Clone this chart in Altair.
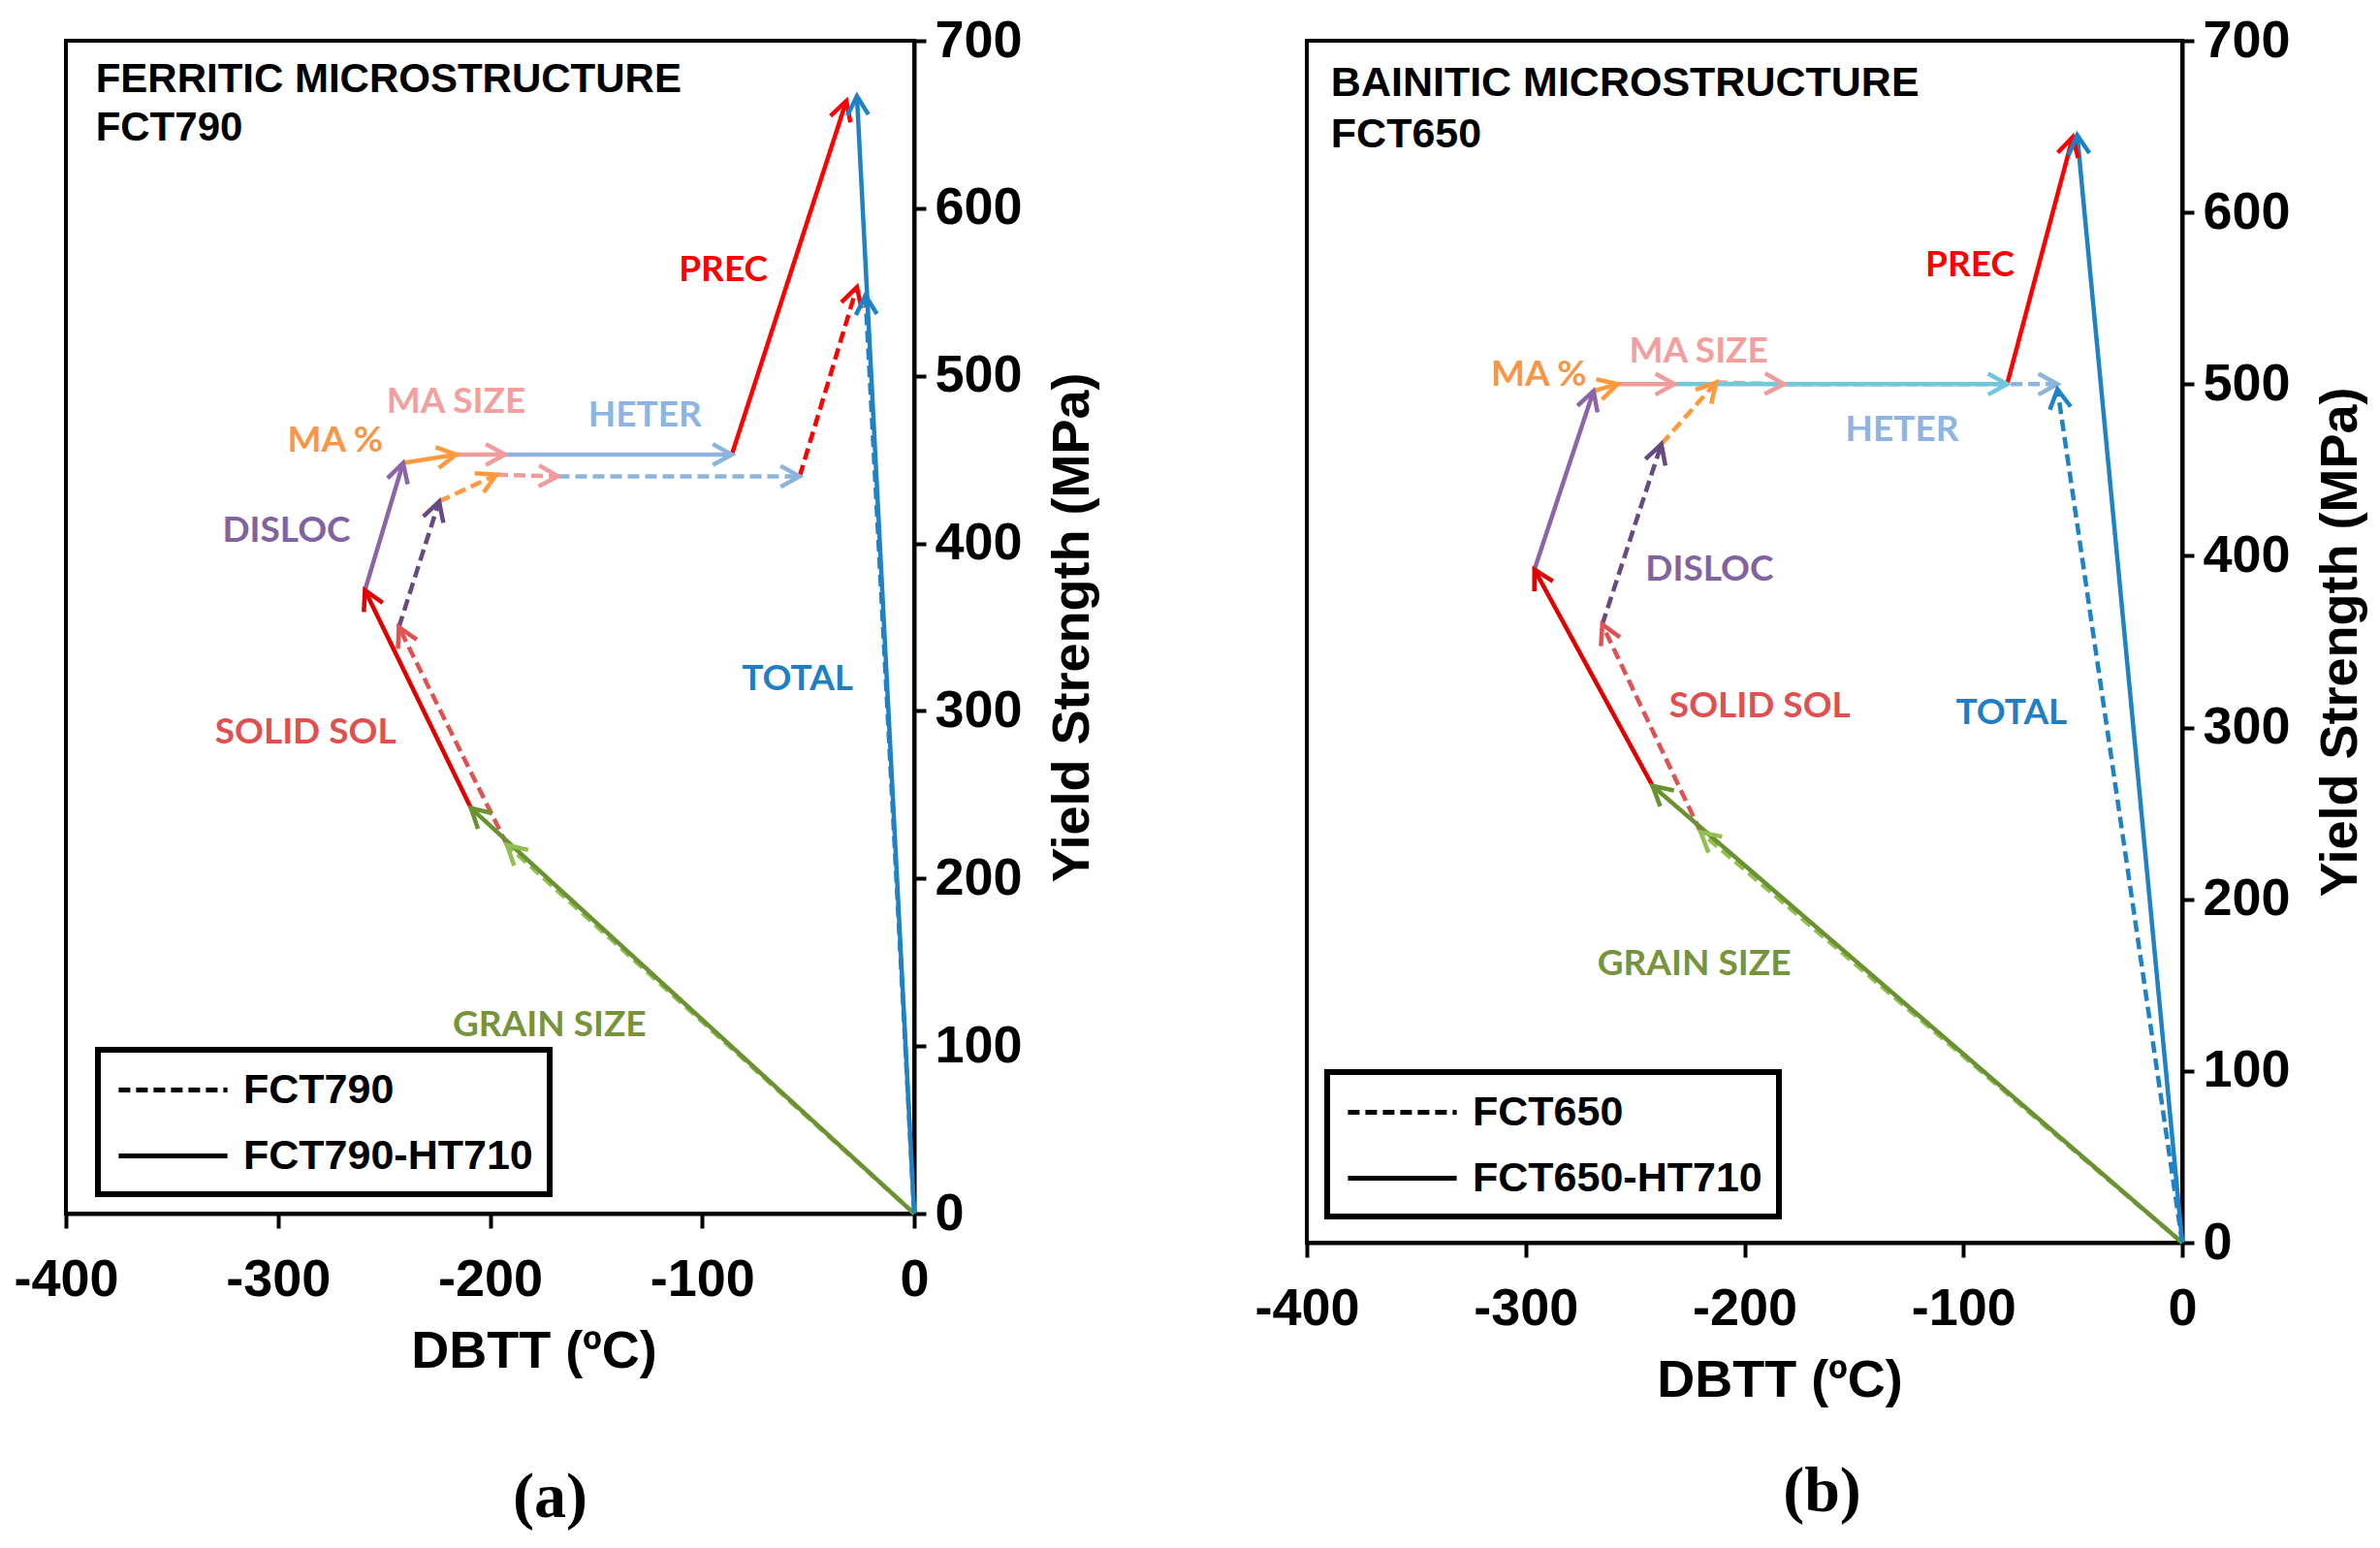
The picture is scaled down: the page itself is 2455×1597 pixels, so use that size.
import math

import altair as alt
import pandas as pd

STEPS = ["GRAIN SIZE", "SOLID SOL", "DISLOC", "MA %", "MA SIZE", "HETER", "PREC"]

# (a) ferritic: end point of each cumulative contribution, starting from (0, 0)
fct790_dbtt = [-192, -243, -224, -197, -168, -54, -27]
fct790_ys = [220, 350, 425, 441, 440, 440, 553]
fct790_total = [-23, 548]
fct790_ht_dbtt = [-209, -259, -241, -216, -193, -86, -32]
fct790_ht_ys = [242, 372, 448, 453, 453, 453, 664]
fct790_ht_total = [-27, 667]

# (b) bainitic: no precipitation step for FCT650
fct650_dbtt = [-220, -265, -238, -213, -182, -57]
fct650_ys = [239, 360, 465, 501, 500, 500]
fct650_total = [-57, 497]
fct650_ht_dbtt = [-242, -296, -269, -258, -232, -80, -50]
fct650_ht_ys = [266, 392, 496, 500, 500, 500, 644]
fct650_ht_total = [-48, 645]

label_text = ["PREC", "MA SIZE", "HETER", "MA %", "DISLOC", "SOLID SOL", "TOTAL", "GRAIN SIZE"]
a_label_x = [-90, -216, -127, -273, -296, -287, -55, -172]
a_label_y = [563, 484, 476, 461, 407, 287, 319, 112]
b_label_x = [-97, -221, -128, -294, -216, -193, -78, -223]
b_label_y = [569, 519, 473, 505, 392, 312, 308, 162]

x_ticks = [-400, -300, -200, -100, 0]
y_ticks = [0, 100, 200, 300, 400, 500, 600, 700]

# colours
label_colours = {
    "GRAIN SIZE": "#77933C", "SOLID SOL": "#E05050", "DISLOC": "#8064A2",
    "MA %": "#F79646", "MA SIZE": "#F2A09E", "HETER": "#8DB4E2",
    "PREC": "#FF0000", "TOTAL": "#1F7FC4",
}
line_colours = {
    "GRAIN SIZE dash": "#92C050", "GRAIN SIZE solid": "#6A9232",
    "SOLID SOL dash": "#E05252", "SOLID SOL solid": "#E00000",
    "DISLOC dash": "#664A80", "DISLOC solid": "#8C64A8",
    "MA % dash": "#FF9A3C", "MA % solid": "#FF9A3C",
    "MA SIZE dash": "#F09C9A", "MA SIZE solid": "#F09C9A",
    "HETER dash": "#8DB4DC", "HETER solid": "#8DB4DC",
    "PREC dash": "#FF0000", "PREC solid": "#FF0000",
    "TOTAL dash": "#1F82C4", "TOTAL solid": "#1F82C4",
}

CHEVRON = "M-0.55,1L0,0L0.55,1"
BOLD = dict(font="Liberation Sans", fontWeight="bold")


def segments(dbtt, ys, total, series, style):
    rows = []
    px, py = 0, 0
    for step, x, y in zip(STEPS, dbtt, ys):
        rows.append(dict(x0=px, y0=py, x1=x, y1=y, key=f"{step} {style}", series=series))
        px, py = x, y
    rows.append(dict(x0=0, y0=0, x1=total[0], y1=total[1], key=f"TOTAL {style}", series=series))
    return rows


def panel(dash, solid, dash_name, solid_name, head1, head2, lab_x, lab_y,
          width, height, heter_solid, caption, cap_offset, cap_dx, title_dx,
          legend_x, legend_y, head_x, head_y, head_size):
    seg = pd.DataFrame(segments(*dash, dash_name, "dash") + segments(*solid, solid_name, "solid"))
    sx, sy = width / 400, height / 700
    seg["angle"] = [
        math.degrees(math.atan2((r.x1 - r.x0) * sx, (r.y1 - r.y0) * sy)) % 360
        for r in seg.itertuples()
    ]
    colours = dict(line_colours)
    colours["HETER solid"] = heter_solid
    colour = alt.Color("key:N", scale=alt.Scale(domain=list(colours), range=list(colours.values())), legend=None)

    xs = alt.Scale(domain=[-400, 0], nice=False, zero=False)
    ys = alt.Scale(domain=[0, 700], nice=False)
    xaxis = alt.Axis(
        values=x_ticks, title="DBTT (ºC)", labelExpr="'' + datum.value", labelFlush=False,
        labelPadding=26, tickSize=15, titlePadding=20, titleX=width / 2 + title_dx,
    )
    yaxis = alt.Axis(
        orient="right", values=y_ticks, title="Yield Strength (MPa)", titleAngle=270,
        titleBaseline="top", labelPadding=9, tickSize=12, titlePadding=25,
    )

    def X(f):
        return alt.X(f, type="quantitative", scale=xs, axis=xaxis)

    def Y(f):
        return alt.Y(f, type="quantitative", scale=ys, axis=yaxis)

    rules = alt.Chart(seg).mark_rule(strokeWidth=4.5).encode(
        x=X("x0"), y=Y("y0"), x2="x1", y2="y1", color=colour,
        strokeDash=alt.StrokeDash(
            "series:N",
            scale=alt.Scale(domain=[dash_name, solid_name], range=[[12, 6], [1, 0]]),
            legend=alt.Legend(title=None, orient="none", legendX=legend_x, legendY=legend_y,
                              symbolStrokeColor="black",
                              labelExpr="datum.label + '\u00a0\u00a0'"),
        ),
    )
    heads = alt.Chart(seg).mark_point(shape=CHEVRON, filled=False, size=1550, strokeWidth=4.5, opacity=1).encode(
        x=X("x1"), y=Y("y1"), color=colour, angle=alt.Angle("angle:Q", scale=None),
    )
    labs = pd.DataFrame({"x": lab_x, "y": lab_y, "text": label_text})
    labels = alt.Chart(labs).mark_text(font="Lato", fontWeight="bold", fontSize=37).encode(
        x=X("x"), y=Y("y"), text="text:N",
        color=alt.Color("text:N", scale=alt.Scale(domain=list(label_colours), range=list(label_colours.values())), legend=None),
    )
    heads_df = pd.DataFrame({"x": [head_x, head_x], "y": head_y, "text": [head1, head2]})
    heading = alt.Chart(heads_df).mark_text(align="left", fontSize=head_size, color="black", **BOLD).encode(
        x=X("x"), y=Y("y"), text="text:N",
    )
    return alt.layer(rules, heads, labels, heading).resolve_scale(color="independent").properties(
        width=width, height=height,
        title=alt.TitleParams(caption, orient="bottom", anchor="middle", frame="group",
                              font="Liberation Serif", fontWeight="bold", fontSize=66,
                              color="black", offset=cap_offset, dx=cap_dx, baseline="top"),
    )


left = panel(
    (fct790_dbtt, fct790_ys, fct790_total), (fct790_ht_dbtt, fct790_ht_ys, fct790_ht_total),
    "FCT790", "FCT790-HT710", "FERRITIC MICROSTRUCTURE", "FCT790",
    a_label_x, a_label_y, 875, 1210, "#8DB4DC", "(a)", 92, 62, 45, 33, 1041,
    -386, [677, 648], 42,
)
right = panel(
    (fct650_dbtt, fct650_ys, fct650_total), (fct650_ht_dbtt, fct650_ht_ys, fct650_ht_total),
    "FCT650", "FCT650-HT710", "BAINITIC MICROSTRUCTURE", "FCT650",
    b_label_x, b_label_y, 903, 1240, "#70C8DC", "(b)", 56, 80, 36, 21, 1064,
    -389, [675, 645], 43,
)

chart = (
    alt.hconcat(left, right, spacing=155)
    .resolve_scale(x="independent", y="independent", color="independent", strokeDash="independent")
    .resolve_legend(strokeDash="independent")
    .properties(padding={"left": 3, "top": 5, "right": 0, "bottom": 0}, background="white")
    .configure_view(stroke="black", strokeWidth=4)
    .configure_axis(
        grid=False, domainColor="black", domainWidth=4, tickColor="black", tickWidth=4,
        labelFont="Liberation Sans", labelFontWeight="bold", labelFontSize=54, labelColor="black",
        titleFont="Liberation Sans", titleFontWeight="bold", titleFontSize=54, titleColor="black",
    )
    .configure_legend(
        strokeColor="black", strokeWidth=6, fillColor="white", padding=17,
        labelFont="Liberation Sans", labelFontWeight="bold", labelFontSize=43, labelColor="black",
        labelLimit=600, symbolType="M-2.55,0L2.55,0", symbolSize=1936, symbolStrokeWidth=5,
        symbolStrokeColor="black", rowPadding=21, labelOffset=48, symbolOffset=36,
    )
)

chart.save("out.html", embed_options={"renderer": "svg", "actions": False})
